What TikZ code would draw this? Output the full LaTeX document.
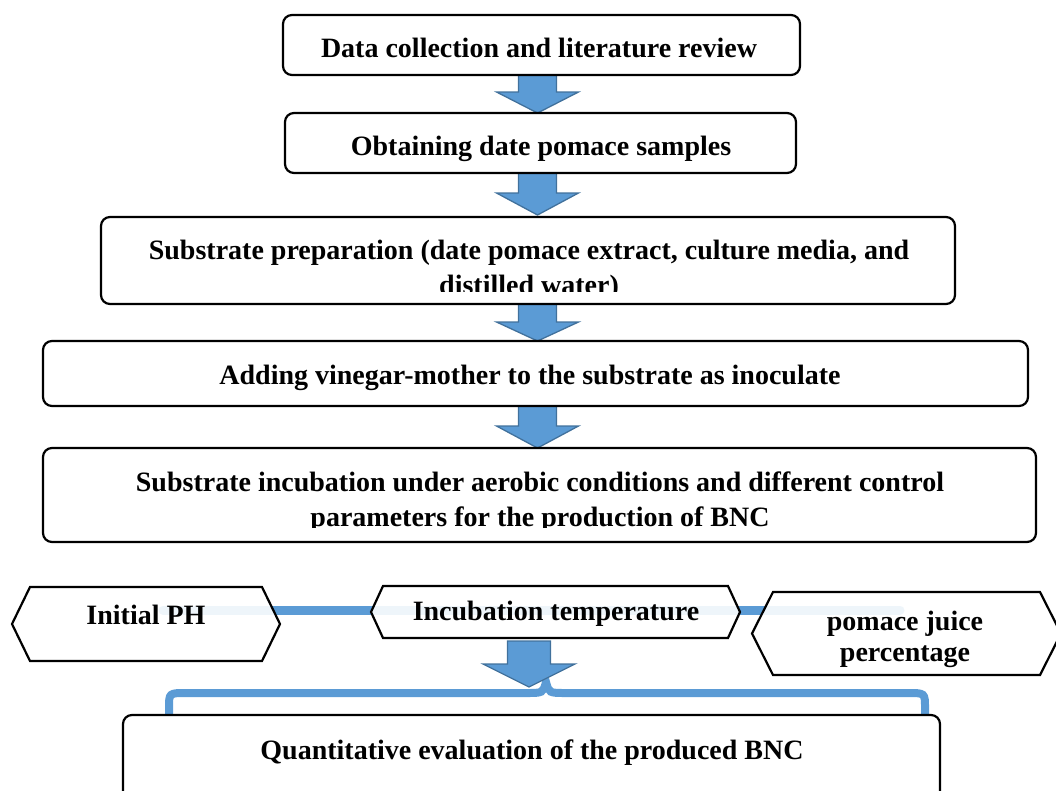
\documentclass[tikz,border=0pt]{standalone}
\usepackage{fontspec}
\setmainfont{Liberation Serif}
\usetikzlibrary{calc}
\definecolor{bfill}{HTML}{5B9BD5}
\definecolor{bdraw}{HTML}{41719C}
\tikzset{
  stepbox/.style={draw=black, line width=2.2pt, rounded corners=9pt, fill=white},
  txt/.style={font=\fontsize{28}{35}\selectfont\bfseries, align=center, inner sep=0pt},
  blk/.style={fill=bfill, draw=bdraw, line width=1.3pt, line join=miter},
  hexbox/.style={draw=black, line width=2.2pt, fill=white, fill opacity=0.9, line join=miter},
  bline/.style={draw=bfill, line width=9pt},
  brace/.style={draw=bfill, line width=8pt}
}
\newcommand{\blkarrow}[6]{%
  \draw[blk] ({#1-#5},#2) -- ({#1+#5},#2) -- ({#1+#5},#3) -- ({#1+#6},#3) -- (#1,#4) -- ({#1-#6},#3) -- ({#1-#5},#3) -- cycle;}
\begin{document}
\begin{tikzpicture}[x=1pt,y=-1pt]
\useasboundingbox (0,0) rectangle (1056,790);
\clip (0,0) rectangle (1056,790);
% block arrows
\blkarrow{537.5}{75}{92}{113}{19}{41}
\blkarrow{537.5}{173}{193}{215}{19}{41}
\blkarrow{537.5}{304}{322}{341}{19}{41}
\blkarrow{537.5}{406}{426}{448}{19}{41}
% boxes
\node[stepbox, minimum width=517pt, minimum height=60pt] (b1) at (541.5,45) {};
\node[txt] (t1) at (539,48) {Data collection and literature review};
\node[stepbox, minimum width=511pt, minimum height=60pt] (b2) at (540.5,143) {};
\node[txt] (t2) at (541,149) {Obtaining date pomace samples};
\node[stepbox, minimum width=854pt, minimum height=87pt] (b3) at (528,260.5) {};
\begin{scope}
\clip (101,217) rectangle (955,291);
\node[txt] (t3) at (529,270.5) {Substrate preparation (date pomace extract, culture media, and\\ distilled water)};
\end{scope}
\node[stepbox, minimum width=985pt, minimum height=65pt] (b4) at (535.5,373.5) {};
\node[txt] (t4) at (530,378) {Adding vinegar-mother to the substrate as inoculate};
\node[stepbox, minimum width=993pt, minimum height=94pt] (b5) at (539.5,495) {};
\begin{scope}
\clip (43,448) rectangle (1036,527);
\node[txt] (t5) at (540,502.5) {Substrate incubation under aerobic conditions and different control\\ parameters for the production of BNC};
\end{scope}
% connector line behind hexagons
\draw[bline, line cap=round] (163,610) -- (900,610);
% hexagons
\draw[hexbox] (30,587) -- (262,587) -- (280,624) -- (262,661) -- (30,661) -- (12,624) -- cycle;
\node[txt] (h1) at (146,615) {Initial PH};
\draw[hexbox] (383,586) -- (728,586) -- (740,612) -- (728,638) -- (383,638) -- (371,612) -- cycle;
\node[txt] (h2) at (556,614) {Incubation temperature};
\draw[hexbox] (773,592) -- (1040,592) -- (1061,633.5) -- (1040,675) -- (773,675) -- (752,633.5) -- cycle;
\node[txt, font=\fontsize{28}{31}\selectfont\bfseries] (h3) at (905,639) {pomace juice\\ percentage};
% brace
\draw[brace] (169,716) -- (169,708) .. controls (169,693) .. (186,693) -- (526,693) .. controls (543,693) .. (546,682)
   .. controls (549,693) .. (566,693) -- (908,693) .. controls (925,693) .. (925,708) -- (925,716);
\blkarrow{529}{641}{664}{687}{21.5}{46}
% final box
\node[stepbox, minimum width=817pt, minimum height=100pt] (b6) at (531.5,765) {};
\node[txt] (t6) at (532,753) {Quantitative evaluation of the produced BNC};
\end{tikzpicture}
\end{document}
